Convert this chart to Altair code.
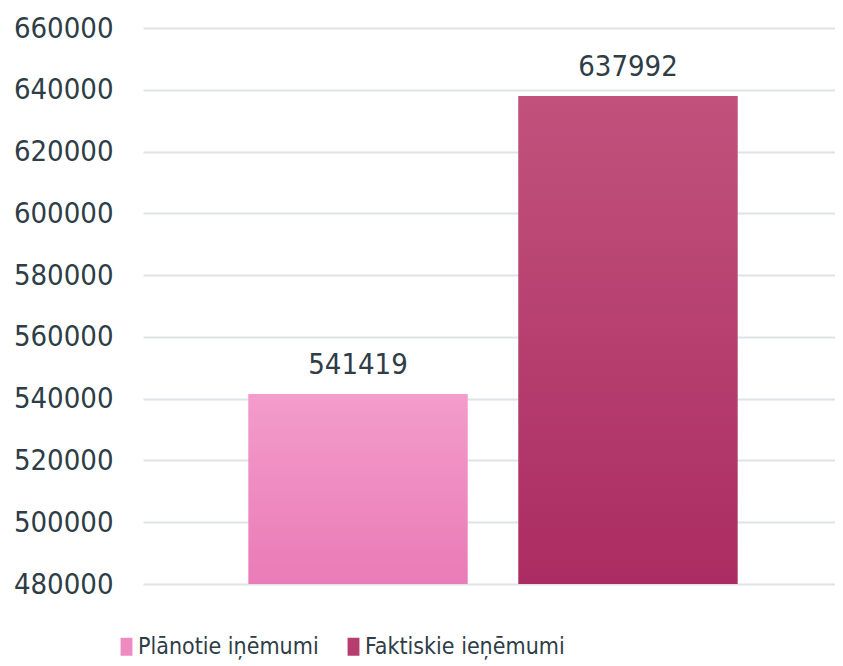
import altair as alt
import pandas as pd

categories = ["Plānotie iņēmumi", "Faktiskie ieņēmumi"]
values = [541419, 637992]
solid_colors = ["#ee8cc1", "#b63e6e"]
top_colors = ["#f39ccb", "#c1527c"]
bottom_colors = ["#ea7bb6", "#ab2c62"]
y_ticks = [480000, 500000, 520000, 540000, 560000, 580000, 600000, 620000, 640000, 660000]

df = pd.DataFrame({"Series": categories, "Value": values})

TEXT = "#2e3d46"
NUM_FONT = "DejaVu Sans Condensed"
LEG_FONT = "DejaVu Sans Condensed"

x_enc = alt.X("Series:N", sort=categories, axis=None,
              scale=alt.Scale(range=[0, 700], paddingInner=0.189, paddingOuter=0.391))
y_enc = alt.Y("Value:Q", title=None,
              scale=alt.Scale(domain=[480000, 660000], zero=False, nice=False),
              axis=alt.Axis(values=y_ticks, format="d", domain=False, ticks=False,
                            labelFont=NUM_FONT, labelFontSize=29, labelColor=TEXT,
                            labelPadding=30, gridColor="#dde4e7", gridWidth=2))

base = alt.Chart(df)

legend_bars = base.mark_bar().encode(
    x=x_enc, y=y_enc, y2=alt.datum(480000),
    color=alt.Color("Series:N", sort=categories,
                    scale=alt.Scale(domain=categories, range=solid_colors),
                    legend=alt.Legend(title=None, orient="none", direction="horizontal",
                                      legendX=-28, legendY=607,
                                      symbolType="M-0.66,-1H0.66V1H-0.66Z",
                                      symbolSize=324, symbolStrokeWidth=0,
                                      labelFont=LEG_FONT, labelFontSize=23,
                                      labelColor=TEXT, labelOffset=0,
                                      columnPadding=23, labelLimit=400)),
)

layers = [legend_bars]
for cat, tc, bc in zip(categories, top_colors, bottom_colors):
    grad = alt.Gradient(gradient="linear",
                        stops=[alt.GradientStop(color=tc, offset=0),
                               alt.GradientStop(color=bc, offset=1)],
                        x1=0, x2=0, y1=0, y2=1)
    layers.append(
        base.transform_filter(alt.datum.Series == cat)
        .mark_bar(color=grad)
        .encode(x=x_enc, y=y_enc, y2=alt.datum(480000))
    )

labels = base.mark_text(font=NUM_FONT, fontSize=29, color=TEXT, baseline="middle", dy=-29).encode(
    x=x_enc, y=y_enc, text=alt.Text("Value:Q", format="d")
)
layers.append(labels)

chart = alt.layer(*layers).properties(
    width=692, height=556,
    autosize=alt.AutoSizeParams(type="none"),
    padding={"left": 135, "top": 20, "right": 0, "bottom": 80},
).configure_view(stroke=None)

chart.save("out.html", embed_options={"renderer": "svg", "actions": False})
